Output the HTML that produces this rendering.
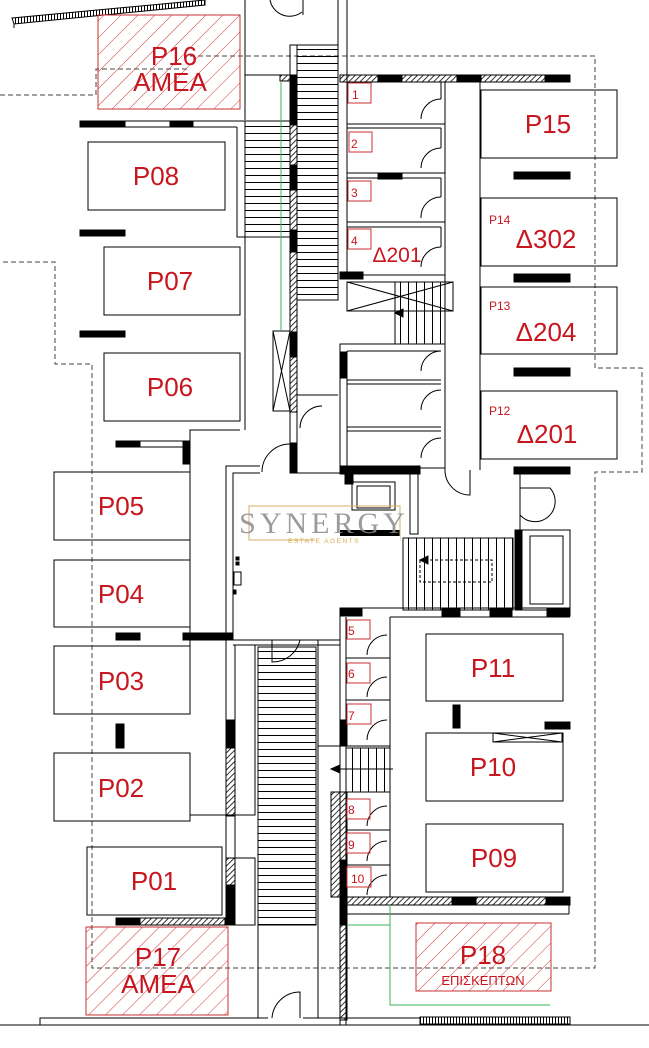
<!DOCTYPE html>
<html><head><meta charset="utf-8">
<style>
html,body{margin:0;padding:0;background:#fff;}
svg{display:block;}
text{font-family:"Liberation Sans",sans-serif;fill:#c8161e;}
</style></head>
<body>
<svg width="649" height="1048" viewBox="0 0 649 1048" xmlns="http://www.w3.org/2000/svg">
<defs>
<pattern id="rh" patternUnits="userSpaceOnUse" width="12" height="12" patternTransform="rotate(45)">
<line x1="0" y1="0" x2="0" y2="12" stroke="#d03a3a" stroke-width="1"/>
</pattern>
<pattern id="bh" patternUnits="userSpaceOnUse" width="4" height="4" patternTransform="rotate(45)">
<line x1="0" y1="0" x2="0" y2="4" stroke="#000" stroke-width="1.6"/>
</pattern>
<pattern id="st" patternUnits="userSpaceOnUse" width="10" height="7">
<line x1="0" y1="0.5" x2="10" y2="0.5" stroke="#000" stroke-width="1"/>
</pattern>
<pattern id="sv" patternUnits="userSpaceOnUse" width="8" height="10">
<line x1="0.5" y1="0" x2="0.5" y2="10" stroke="#000" stroke-width="1"/>
</pattern>
<pattern id="tk" patternUnits="userSpaceOnUse" width="3" height="6">
<line x1="0.5" y1="0" x2="0.5" y2="6" stroke="#000" stroke-width="1"/>
</pattern>
</defs>

<g fill="none" stroke="#000" stroke-width="1">
<g stroke="#444" stroke-dasharray="5,3">
<polyline points="0,95 96,95 96,69 190,69"/>
<polyline points="190,56 595,56 595,368 642,368 642,472 595,472 595,968 92,968 92,364 55,364 55,262 0,262"/>
</g>

<polygon points="12,18 205,0 205,5 14,24" fill="url(#tk)"/>
<line x1="14" y1="24" x2="14" y2="28"/>
<path d="M302,12 A20,20 0 0 1 270,0"/>
<line x1="303" y1="0" x2="303" y2="15"/>
<line x1="245" y1="0" x2="245" y2="120"/>
<line x1="338" y1="0" x2="338" y2="300"/>
<line x1="347" y1="0" x2="347" y2="275"/>

<rect x="98" y="15" width="142" height="94" fill="url(#rh)" stroke="#c83232"/>
<rect x="80" y="121" width="45" height="6" fill="#000"/>
<rect x="170" y="121" width="23" height="6" fill="#000"/>
<line x1="125" y1="121" x2="245" y2="121"/>
<line x1="125" y1="127" x2="237" y2="127"/>
<polyline points="237,127 237,237 290,237"/>
<rect x="245" y="121" width="45" height="116" fill="url(#st)"/>
<line x1="245" y1="75" x2="290" y2="75"/>
<line x1="245" y1="237" x2="245" y2="430"/>
<polyline points="240,430 190,430 190,472"/>
<rect x="80" y="230" width="45" height="6" fill="#000"/>
<rect x="80" y="331" width="45" height="6" fill="#000"/>
<rect x="116" y="441" width="70" height="6" fill="none"/>
<rect x="116" y="441" width="24" height="6" fill="#000"/>
<rect x="183" y="441" width="7" height="23" fill="#000"/>

<rect x="88" y="142" width="137" height="68"/>
<rect x="104" y="247" width="136" height="68"/>
<rect x="104" y="353" width="136" height="68"/>
<rect x="54" y="472" width="136" height="68"/>
<rect x="54" y="560" width="136" height="67"/>
<rect x="54" y="646" width="136" height="68"/>
<rect x="54" y="753" width="136" height="68"/>
<rect x="87" y="847" width="135" height="68"/>
<rect x="86" y="927" width="142" height="88" fill="url(#rh)" stroke="#c83232"/>
<rect x="116" y="633" width="24" height="7" fill="#000"/>
<rect x="183" y="633" width="50" height="7" fill="#000"/>
<rect x="116" y="724" width="8" height="24" fill="#000"/>
<line x1="190" y1="540" x2="190" y2="633"/>
<line x1="190" y1="640" x2="190" y2="646"/>
<rect x="116" y="918" width="24" height="7" fill="#000"/>
<rect x="140" y="918" width="85" height="7" fill="url(#bh)"/>

<rect x="290" y="45" width="7" height="425"/>
<rect x="297" y="45" width="41" height="255" fill="url(#st)"/>
<rect x="290" y="75" width="7" height="50" fill="#000"/>
<rect x="290" y="125" width="7" height="40" fill="url(#bh)"/>
<rect x="290" y="165" width="7" height="25" fill="#000"/>
<rect x="290" y="190" width="7" height="40" fill="url(#bh)"/>
<rect x="290" y="230" width="7" height="22" fill="#000"/>
<rect x="290" y="252" width="7" height="80" fill="url(#bh)"/>
<rect x="290" y="332" width="7" height="25" fill="#000"/>
<rect x="290" y="357" width="7" height="55" fill="url(#bh)"/>
<rect x="290" y="443" width="7" height="30" fill="#000"/>
<line x1="281" y1="82" x2="281" y2="330" stroke="#3cb35a"/>
<rect x="273" y="331" width="17" height="80"/>
<path d="M273,331 L290,411 M290,331 L273,411"/>
<rect x="280" y="75" width="10" height="6" fill="url(#bh)"/>
<path d="M300,428 A22,22 0 0 1 322,406"/>
<line x1="297" y1="395" x2="338" y2="395"/>

<rect x="340" y="75" width="38" height="7" fill="url(#bh)"/>
<rect x="378" y="75" width="24" height="7" fill="#000"/>
<rect x="402" y="75" width="55" height="7" fill="url(#bh)"/>
<rect x="457" y="75" width="24" height="7" fill="#000"/>
<rect x="481" y="75" width="64" height="7" fill="url(#bh)"/>
<rect x="545" y="75" width="25" height="7" fill="#000"/>

<line x1="445" y1="82" x2="445" y2="470"/>
<line x1="480" y1="82" x2="480" y2="470"/>
<g>
<line x1="347" y1="124" x2="445" y2="124"/><line x1="347" y1="128" x2="441" y2="128"/>
<line x1="347" y1="173" x2="445" y2="173"/><line x1="347" y1="178" x2="441" y2="178"/>
<rect x="378" y="173" width="24" height="6" fill="#000"/>
<line x1="347" y1="222" x2="445" y2="222"/><line x1="347" y1="227" x2="441" y2="227"/>
<line x1="340" y1="275" x2="445" y2="275"/>
<rect x="340" y="272" width="23" height="7" fill="#000"/>
<path d="M421,119 A20,20 0 0 1 441,99 M421,168 A20,20 0 0 1 441,148 M421,218 A20,20 0 0 1 441,197 M421,267 A20,20 0 0 1 441,247"/>
<line x1="441" y1="82" x2="441" y2="99"/><line x1="441" y1="128" x2="441" y2="148"/>
<line x1="441" y1="178" x2="441" y2="197"/><line x1="441" y1="227" x2="441" y2="247"/>
</g>
<g stroke="#c83232">
<rect x="348" y="83" width="23" height="20"/><rect x="349" y="132" width="23" height="20"/>
<rect x="348" y="181" width="23" height="20"/><rect x="348" y="229" width="23" height="20"/>
</g>
<rect x="347" y="282" width="106" height="29"/>
<path d="M347,282 L453,311 M453,282 L347,311"/>
<rect x="395" y="282" width="50" height="62" fill="url(#sv)"/>
<path d="M395,313 L403,309 L403,317 Z" fill="#000"/>
<rect x="340" y="344" width="105" height="124"/>
<rect x="340" y="352" width="7" height="26" fill="#000"/>
<line x1="347" y1="351" x2="441" y2="351"/>
<line x1="347" y1="380" x2="441" y2="380"/><line x1="347" y1="384" x2="441" y2="384"/>
<line x1="347" y1="427" x2="441" y2="427"/><line x1="347" y1="431" x2="441" y2="431"/>
<line x1="347" y1="351" x2="347" y2="466"/>
<path d="M421,371 A20,20 0 0 1 441,351 M421,410 A20,20 0 0 1 441,390 M421,458 A20,20 0 0 1 441,438"/>
<rect x="340" y="466" width="80" height="8" fill="#000"/>
<rect x="345" y="474" width="8" height="10" fill="#000"/>
<rect x="352" y="482" width="43" height="28"/>
<rect x="357" y="486" width="33" height="22"/>
<rect x="410" y="474" width="8" height="60" fill="none"/>
<path d="M445,470 A25,25 0 0 0 470,495 L470,470"/>
<rect x="514" y="467" width="56" height="7" fill="#000"/>
<path d="M520,515 A20,20 0 0 0 550,488 L520,488"/>
<line x1="520" y1="474" x2="520" y2="530"/>

<rect x="481" y="90" width="136" height="68"/>
<rect x="481" y="198" width="136" height="68"/>
<rect x="481" y="287" width="136" height="67"/>
<rect x="481" y="391" width="136" height="68"/>
<rect x="514" y="172" width="56" height="7" fill="#000"/>
<rect x="514" y="274" width="56" height="8" fill="#000"/>
<rect x="514" y="368" width="56" height="8" fill="#000"/>

<polyline points="226,640 226,466 260,466"/>
<polyline points="233,633 233,473 260,473"/>
<line x1="290" y1="473" x2="340" y2="473"/>
<path d="M262,472 A28,28 0 0 1 290,444"/>
<rect x="236" y="557" width="3" height="3" fill="#000"/><rect x="236" y="562" width="3" height="3" fill="#000"/>
<rect x="234" y="572" width="7" height="13"/>
<rect x="233" y="590" width="3" height="4" fill="#000"/>
<rect x="403" y="538" width="110" height="72" fill="url(#sv)" stroke="none"/>
<rect x="403" y="538" width="110" height="72" fill="none"/>
<rect x="420" y="560" width="72" height="22" stroke-dasharray="3,2"/>
<path d="M420,560 L428,556 L428,564 Z" fill="#000"/>
<rect x="340" y="530" width="60" height="8" fill="#000" stroke="none"/>
<rect x="515" y="530" width="55" height="80"/>
<rect x="515" y="530" width="7" height="80" fill="#000"/>
<rect x="530" y="536" width="33" height="68"/>
<line x1="340" y1="608" x2="570" y2="608"/>
<line x1="390" y1="617" x2="570" y2="617"/>
<rect x="340" y="608" width="22" height="8" fill="#000"/>
<rect x="442" y="608" width="18" height="8" fill="#000"/>
<rect x="490" y="608" width="22" height="8" fill="#000"/>
<rect x="547" y="608" width="23" height="8" fill="#000"/>

<line x1="340" y1="610" x2="340" y2="1025"/>
<line x1="346" y1="617" x2="346" y2="1025"/>
<line x1="390" y1="617" x2="390" y2="897"/>
<line x1="346" y1="658" x2="390" y2="658"/><line x1="346" y1="700" x2="390" y2="700"/>
<line x1="318" y1="746" x2="390" y2="746"/><line x1="346" y1="792" x2="390" y2="792"/>
<line x1="346" y1="830" x2="390" y2="830"/><line x1="346" y1="865" x2="390" y2="865"/>
<path d="M367,655 A20,20 0 0 1 387,635 M367,697 A20,20 0 0 1 387,677 M367,740 A20,20 0 0 1 387,720 M367,826 A20,20 0 0 1 387,806 M367,861 A20,20 0 0 1 387,841 M367,895 A20,20 0 0 1 387,875"/>
<rect x="340" y="720" width="7" height="26" fill="#000"/>
<rect x="340" y="792" width="7" height="105" fill="url(#bh)"/>
<rect x="340" y="860" width="7" height="65" fill="#000"/>
<rect x="340" y="925" width="7" height="95" fill="url(#bh)"/>
<rect x="331" y="792" width="9" height="105" fill="url(#bh)"/>
<rect x="346" y="748" width="44" height="44" fill="url(#sv)"/>
<path d="M331,769 L340,765 L340,773 Z" fill="#000"/>
<line x1="331" y1="769" x2="393" y2="769"/>
<g stroke="#c83232">
<rect x="347" y="620" width="23" height="19"/><rect x="347" y="663" width="23" height="20"/>
<rect x="347" y="704" width="24" height="20"/><rect x="347" y="799" width="23" height="20"/>
<rect x="347" y="833" width="23" height="20"/><rect x="347" y="867" width="24" height="20"/>
</g>
<rect x="347" y="897" width="105" height="8" fill="url(#bh)"/>
<rect x="452" y="897" width="24" height="8" fill="#000"/>
<rect x="476" y="897" width="70" height="8" fill="url(#bh)"/>
<rect x="546" y="897" width="24" height="8" fill="#000"/>
<line x1="347" y1="914" x2="569" y2="914"/>
<line x1="569" y1="905" x2="569" y2="914"/>
<rect x="426" y="634" width="137" height="67"/>
<rect x="426" y="733" width="137" height="68"/>
<rect x="426" y="824" width="137" height="68"/>
<rect x="453" y="705" width="7" height="23" fill="#000"/>
<rect x="545" y="722" width="25" height="7" fill="#000"/>
<rect x="493" y="733" width="69" height="9"/>
<path d="M493,733 L562,742 M562,733 L493,742"/>
<rect x="416" y="923" width="135" height="68" fill="url(#rh)" stroke="#c83232"/>
<polyline points="390,905 390,1005 550,1005 Q565,1005 570,1017" stroke="#3cb35a"/>
<line x1="347" y1="925" x2="390" y2="925" stroke="#3cb35a"/>

<line x1="233" y1="640" x2="340" y2="640"/>
<line x1="233" y1="645" x2="340" y2="645"/>
<path d="M272,640 L272,662 A28,28 0 0 0 300,640"/>
<line x1="226" y1="640" x2="226" y2="925"/>
<rect x="226" y="720" width="9" height="28" fill="#000"/>
<rect x="226" y="748" width="9" height="68" fill="url(#bh)"/>
<rect x="226" y="858" width="9" height="27" fill="url(#bh)"/>
<rect x="226" y="885" width="9" height="40" fill="#000"/>
<line x1="235" y1="645" x2="235" y2="925"/>
<polyline points="235,645 255,645 255,815 190,815"/>
<polyline points="235,858 255,858 255,925 229,925"/>
<rect x="258" y="647" width="58" height="278" fill="url(#st)"/>
<rect x="258" y="647" width="58" height="278"/>
<line x1="318" y1="640" x2="318" y2="1018"/>
<line x1="258" y1="925" x2="258" y2="1018"/>
<path d="M272,1018 A28,28 0 0 1 300,992 L300,1018"/>
<polyline points="40,1025 40,1018 268,1018"/>
<line x1="303" y1="1018" x2="420" y2="1018"/>
<line x1="0" y1="1025" x2="649" y2="1025"/>
<rect x="420" y="1017" width="150" height="7" fill="url(#tk)"/>
</g>

<rect x="249" y="506" width="151" height="34" fill="none" stroke="#d4b06a" stroke-width="1"/>
<rect x="315" y="536" width="85" height="8" fill="#fff"/>
<text x="324" y="533" text-anchor="middle" style="font-family:'Liberation Serif',serif;font-size:30px;letter-spacing:4px;fill:#8a8a8a;opacity:0.85">SYNERGY</text>
<text x="324" y="543" text-anchor="middle" style="font-size:6.5px;letter-spacing:1.5px;fill:#d9a94a">ESTATE AGENTS</text>

<g font-size="26" text-anchor="middle">
<text x="174" y="65">P16</text><text x="170" y="91">AMEA</text>
<text x="156" y="185">P08</text>
<text x="170" y="290">P07</text>
<text x="170" y="396">P06</text>
<text x="121" y="515">P05</text>
<text x="121" y="603">P04</text>
<text x="121" y="690">P03</text>
<text x="121" y="797">P02</text>
<text x="154" y="890">P01</text>
<text x="158" y="966">P17</text><text x="158" y="993">AMEA</text>
<text x="548" y="133">P15</text>
<text x="546" y="248">Δ302</text>
<text x="546" y="341">Δ204</text>
<text x="547" y="443">Δ201</text>
<text x="397" y="262" font-size="21">Δ201</text>
<text x="493" y="677">P11</text>
<text x="493" y="776">P10</text>
<text x="494" y="867">P09</text>
<text x="483" y="964">P18</text>
<text x="483" y="985" font-size="13">ΕΠΙΣΚΕΠΤΩΝ</text>
</g>
<g font-size="12">
<text x="489" y="224">P14</text><text x="489" y="310">P13</text><text x="489" y="415">P12</text>
</g>
<g font-size="12">
<text x="352" y="99">1</text><text x="351" y="148">2</text><text x="351" y="197">3</text><text x="351" y="245">4</text>
<text x="348" y="635">5</text><text x="348" y="678">6</text><text x="348" y="720">7</text>
<text x="348" y="814">8</text><text x="348" y="849">9</text><text x="351" y="883">10</text>
</g>
</svg>
</body></html>
